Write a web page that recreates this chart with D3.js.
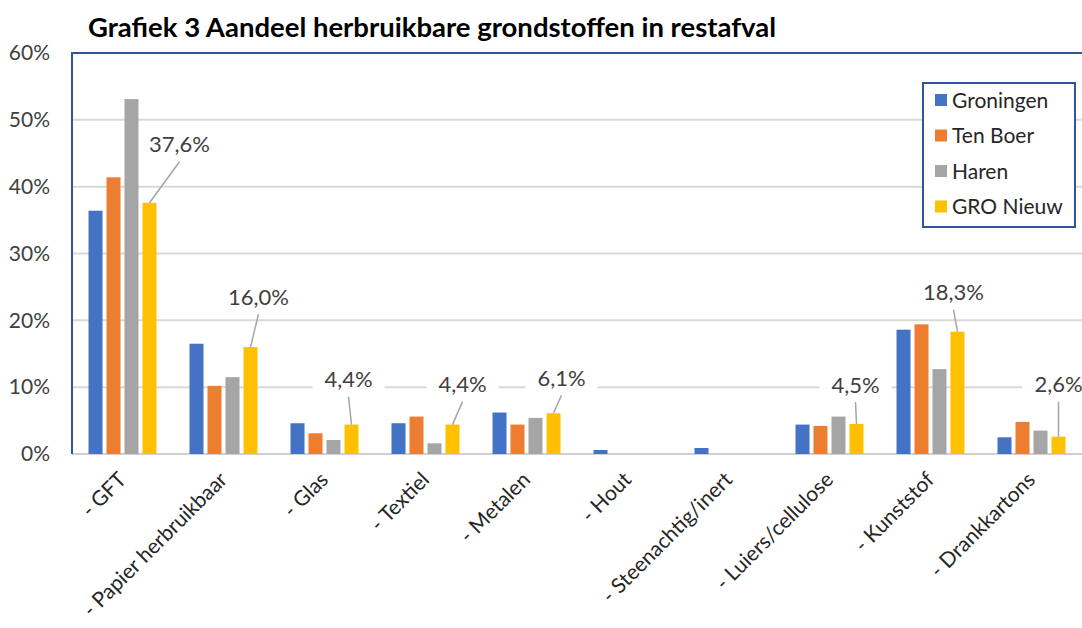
<!DOCTYPE html>
<html>
<head>
<meta charset="utf-8">
<script src="https://cdn.jsdelivr.net/npm/d3@7"></script>
<style>
  body { margin: 0; background: #fff; }
  svg { display: block; font-family: Lato, "Open Sans", sans-serif; }
</style>
</head>
<body>
<div id="chart"></div>
<script>
// categories and series
var categories = ["- GFT", "- Papier herbruikbaar", "- Glas", "- Textiel", "- Metalen",
    "- Hout", "- Steenachtig/inert", "- Luiers/cellulose", "- Kunststof", "- Drankkartons"];
var seriesNames = ["Groningen", "Ten Boer", "Haren", "GRO Nieuw"];

var groningen = [36.4, 16.5, 4.6, 4.6, 6.2, 0.6, 0.9, 4.4, 18.6, 2.5];
var tenBoer = [41.4, 10.2, 3.1, 5.6, 4.4, 0, 0, 4.2, 19.4, 4.8];
var haren = [53.1, 11.5, 2.1, 1.6, 5.4, 0, 0, 5.6, 12.7, 3.5];
var groNieuw = [37.6, 16.0, 4.4, 4.4, 6.1, 0, 0, 4.5, 18.3, 2.6];

var yTicks = [0, 10, 20, 30, 40, 50, 60];

// manual nudges of the GRO Nieuw data labels (px from bar top)
var labelNudge = [[30, -58], [8, -50], [-3, -45], [10, -40], [8, -35], null, null, [-1, -39], [-4, -39], [0, -52]];

var colors = ["#4472c4", "#ed7d31", "#a5a5a5", "#ffc000"];

var width = 1082, height = 628;
var margin = { top: 53, right: 0, bottom: 174, left: 72 };

var svg = d3.select("#chart")
    .append("svg")
    .attr("width", width)
    .attr("height", height);

var x0 = d3.scaleBand()
    .domain(categories)
    .range([margin.left, width - margin.right]);

var x1 = d3.scaleBand()
    .domain(seriesNames)
    .range([0, x0.bandwidth()])
    .paddingInner(0.222)
    .paddingOuter(0.917);

var y = d3.scaleLinear()
    .domain([0, 60])
    .range([height - margin.bottom, margin.top]);

var series = [groningen, tenBoer, haren, groNieuw];

// title
svg.append("text")
    .attr("x", 88)
    .attr("y", 37)
    .style("font-size", "27.5px")
    .attr("font-weight", 700)
    .attr("fill", "#000")
    .text("Grafiek 3 Aandeel herbruikbare grondstoffen in restafval");

// gridlines
svg.append("g")
    .selectAll("line")
    .data(yTicks.filter(function (d) { return d > 0 && d < 60; }))
    .join("line")
    .attr("x1", margin.left)
    .attr("x2", width)
    .attr("y1", function (d) { return y(d); })
    .attr("y2", function (d) { return y(d); })
    .attr("stroke", "#d9d9d9")
    .attr("stroke-width", 2);

// baseline
svg.append("line")
    .attr("x1", margin.left)
    .attr("x2", width)
    .attr("y1", y(0))
    .attr("y2", y(0))
    .attr("stroke", "#d0d0d0")
    .attr("stroke-width", 2);

// frame (left + top)
svg.append("path")
    .attr("d", "M" + margin.left + "," + y(0) + "V" + y(60) + "H" + width)
    .attr("fill", "none")
    .attr("stroke", "#2f5597")
    .attr("stroke-width", 2);

// y axis labels
var yAxis = svg.append("g")
    .attr("transform", "translate(" + (margin.left - 20) + ",0)")
    .call(d3.axisLeft(y).tickValues(yTicks).tickSize(0).tickPadding(2).tickFormat(function (d) { return d + "%"; }));
yAxis.select(".domain").remove();
yAxis.selectAll("text")
    .style("font-size", "21px")
    .attr("font-family", "Lato, sans-serif")
    .attr("fill", "#404040");

// bars
var groups = svg.append("g")
    .selectAll("g")
    .data(categories)
    .join("g")
    .attr("transform", function (d) { return "translate(" + x0(d) + ",0)"; });

groups.selectAll("rect")
    .data(function (d, i) {
        return seriesNames.map(function (s, j) { return { series: s, value: series[j][i], idx: j }; });
    })
    .join("rect")
    .attr("x", function (d) { return x1(d.series); })
    .attr("width", x1.bandwidth())
    .attr("y", function (d) { return y(d.value); })
    .attr("height", function (d) { return y(0) - y(d.value); })
    .attr("fill", function (d) { return colors[d.idx]; });

// x axis labels
var xAxis = svg.append("g")
    .attr("transform", "translate(0," + y(0) + ")")
    .call(d3.axisBottom(x0).tickSize(0));
xAxis.select(".domain").remove();
xAxis.selectAll("text")
    .attr("x", 0)
    .attr("y", 0)
    .attr("dy", 0)
    .attr("transform", "translate(5,27) rotate(-45)")
    .attr("text-anchor", "end")
    .style("font-size", "21px")
    .attr("font-family", "Lato, sans-serif")
    .attr("fill", "#262626");

// data labels for GRO Nieuw
var fmt = function (v) { return d3.format(".1f")(v).replace(".", ",") + "%"; };
var labelData = categories.map(function (c, i) { return { cat: c, value: groNieuw[i], nudge: labelNudge[i] }; })
    .filter(function (d) { return d.nudge; });

var labels = svg.append("g")
    .selectAll("g")
    .data(labelData)
    .join("g");

function labelX(d) { return x0(d.cat) + x1("GRO Nieuw") + x1.bandwidth() / 2; }

labels.append("line")
    .attr("x1", labelX)
    .attr("y1", function (d) { return y(d.value); })
    .attr("x2", function (d) { return labelX(d) + d.nudge[0]; })
    .attr("y2", function (d) { return y(d.value) + d.nudge[1] + 17; })
    .attr("stroke", "#a5a5a5")
    .attr("stroke-width", 1.5);

labels.append("rect")
    .attr("x", function (d) { return labelX(d) + d.nudge[0] - 36; })
    .attr("y", function (d) { return y(d.value) + d.nudge[1] - 14; })
    .attr("width", 72)
    .attr("height", 28)
    .attr("fill", "#fff");

labels.append("text")
    .attr("x", function (d) { return labelX(d) + d.nudge[0]; })
    .attr("y", function (d) { return y(d.value) + d.nudge[1]; })
    .attr("dy", "0.35em")
    .attr("text-anchor", "middle")
    .style("font-size", "22px")
    .attr("fill", "#404040")
    .text(function (d) { return fmt(d.value); });

// legend
var legend = svg.append("g")
    .attr("transform", "translate(923,83)");

legend.append("rect")
    .attr("width", 152)
    .attr("height", 144)
    .attr("fill", "#fff")
    .attr("stroke", "#2f5597")
    .attr("stroke-width", 2);

var items = legend.selectAll("g")
    .data(seriesNames)
    .join("g")
    .attr("transform", function (d, i) { return "translate(12," + (17 + i * 35.5) + ")"; });

items.append("rect")
    .attr("x", 0)
    .attr("y", -6)
    .attr("width", 12)
    .attr("height", 12)
    .attr("fill", function (d, i) { return colors[i]; });

items.append("text")
    .attr("x", 17)
    .attr("dy", "0.36em")
    .style("font-size", "21px")
    .attr("fill", "#262626")
    .text(function (d) { return d; });
</script>
</body>
</html>
